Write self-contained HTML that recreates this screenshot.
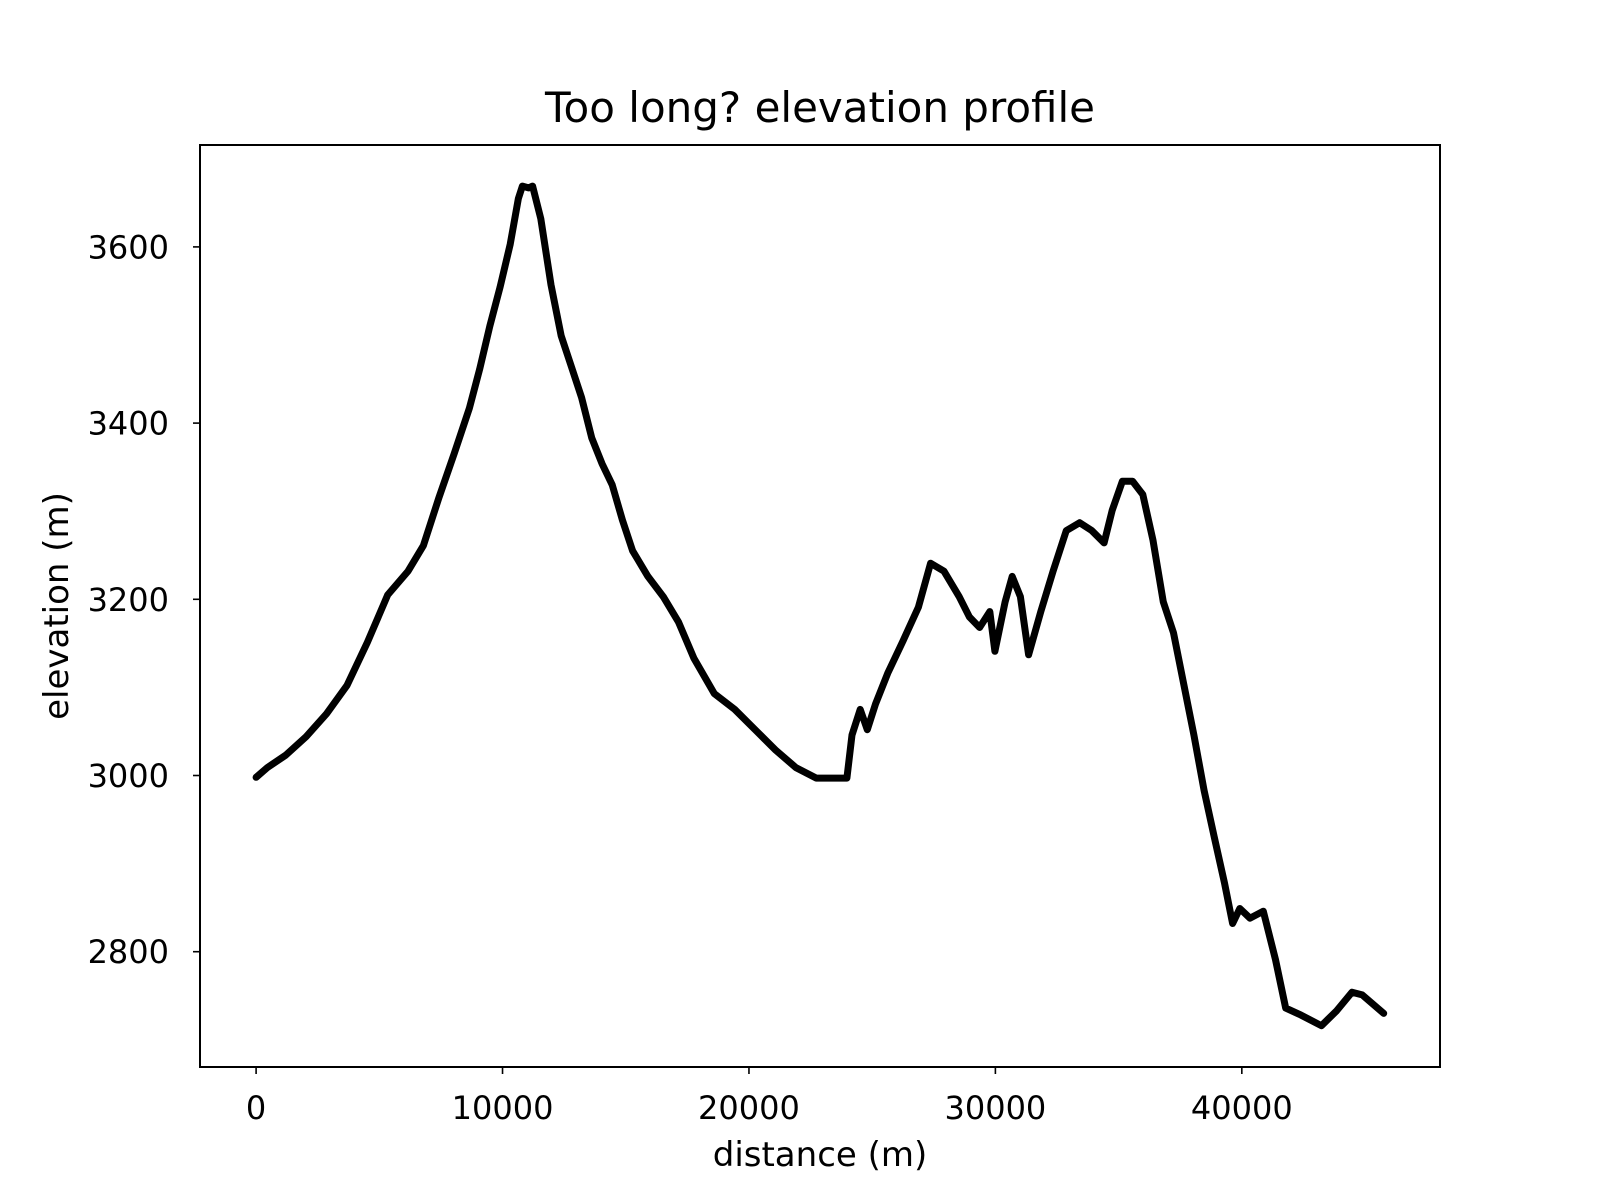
<!DOCTYPE html>
<html><head><meta charset="utf-8"><style>
html,body{margin:0;padding:0;background:#fff;}
svg{display:block;font-family:"DejaVu Sans","Liberation Sans",sans-serif;}
</style></head><body>
<svg id="chart" width="1600" height="1200" viewBox="0 0 1600 1200">
<rect width="1600" height="1200" fill="#fff"/>
<text x="820" y="122" font-size="42" text-anchor="middle">Too long? elevation profile</text>
<g id="plot"></g>
<rect x="200" y="145" width="1240" height="922" fill="none" stroke="#000" stroke-width="2"/>
<text x="820" y="1166" font-size="34" text-anchor="middle">distance (m)</text>
<text transform="translate(68,606) rotate(-90)" font-size="34" text-anchor="middle">elevation (m)</text>
</svg>
<script>
const distances=[0,455,1200,2030,2857,3685,4513,5342,6170,6790,7412,8033,8654,9068,9482,9896,10311,10642,10807,11056,11222,11553,11967,12381,12795,13209,13623,14037,14451,14865,15280,15900,16522,17143,17764,18592,19420,20248,21077,21905,22733,23354,23975,24182,24513,24803,25135,25631,26253,26874,27370,27909,28530,28944,29358,29772,29979,30393,30683,31014,31346,31843,32340,32878,33416,33913,34410,34741,35155,35569,35983,36397,36812,37226,37640,38054,38468,38882,39296,39627,39917,40331,40870,41366,41781,42402,43230,43851,44472,44886,45756];
const elevations=[2998,3009,3023,3044,3070,3102,3151,3205,3232,3261,3315,3365,3417,3461,3510,3554,3603,3655,3669,3667,3669,3632,3557,3499,3464,3429,3383,3354,3330,3290,3255,3226,3203,3174,3133,3093,3075,3052,3029,3009,2997,2997,2997,3046,3075,3052,3081,3116,3153,3191,3241,3232,3203,3180,3168,3186,3141,3197,3226,3203,3137,3186,3232,3278,3287,3278,3264,3301,3334,3334,3319,3267,3197,3162,3104,3046,2983,2930,2878,2832,2849,2838,2846,2791,2736,2728,2716,2733,2754,2751,2730];
const xTicks=[0,10000,20000,30000,40000];
const yTicks=[2800,3000,3200,3400,3600];
const xScale=v=>256.1+v*0.024643;
const yScale=v=>775.5-(v-3000)*0.881;
const NS="http://www.w3.org/2000/svg";
const g=document.getElementById('plot');
function mk(t,a){const e=document.createElementNS(NS,t);for(const k in a)e.setAttribute(k,a[k]);g.appendChild(e);return e;}
xTicks.forEach(t=>{
  const x=xScale(t);
  const l=mk('line',{x1:x,x2:x,y1:1067,y2:1074,stroke:'#000','stroke-width':1.6});
  
  
  const tx=mk('text',{x:x,y:1119,'font-size':32,'text-anchor':'middle'});
  tx.textContent=t;
  
  
});
yTicks.forEach(t=>{
  const y=yScale(t);
  const l=mk('line',{x1:193,x2:200,y1:y,y2:y,stroke:'#000','stroke-width':1.6});
  
  
  const tx=mk('text',{x:169,y:y+11.5,'font-size':32,'text-anchor':'end'});
  tx.textContent=t;
  
  
});
const pts=distances.map((d,i)=>xScale(d).toFixed(1)+','+yScale(elevations[i]).toFixed(1)).join(' ');
const line=mk('polyline',{points:pts,fill:'none',stroke:'#000','stroke-width':7,'stroke-linejoin':'round','stroke-linecap':'round'});


</script>
</body></html>
